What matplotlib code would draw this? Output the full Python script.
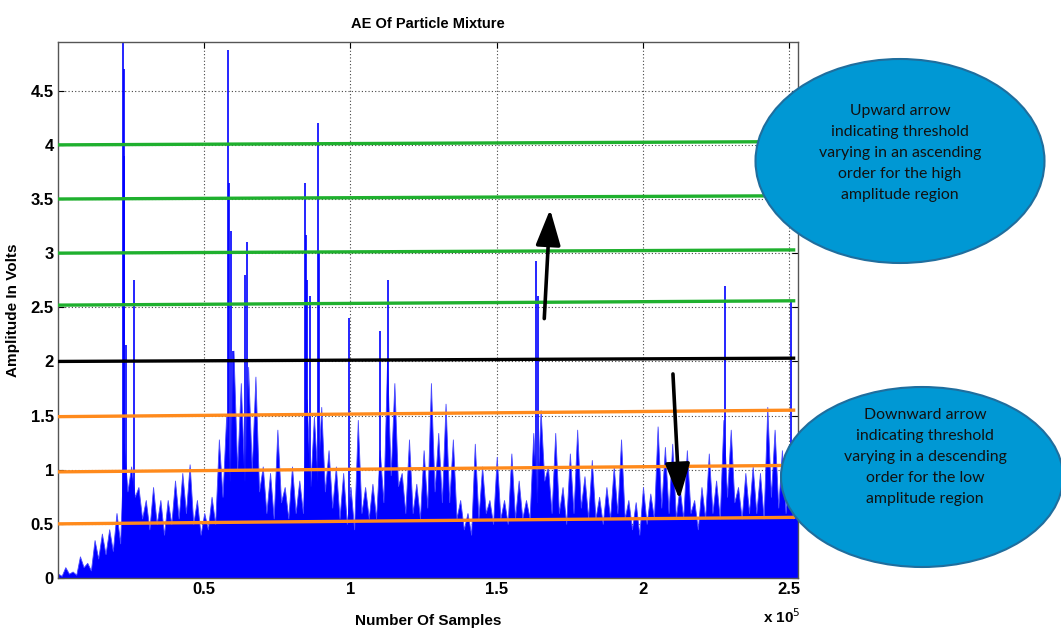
import numpy as np
import matplotlib
matplotlib.use("Agg")
import matplotlib.pyplot as plt
from matplotlib.patches import Ellipse

# AE signal envelope, read every 2500 samples (peak then trough after it)
env_step = 2500
peak_env = [0.04, 0.10, 0.06, 0.20, 0.14, 0.35, 0.41, 0.45, 0.60, 1.24,
            1.03, 0.84, 0.72, 0.84, 0.72, 0.72, 0.90, 0.97, 1.05, 0.72,
            0.60, 0.75, 1.28, 1.50, 2.10, 1.80, 1.95, 1.86, 1.03, 0.97,
            1.37, 0.84, 1.03, 0.90, 1.65, 1.49, 1.58, 1.18, 1.03, 0.97,
            0.84, 1.46, 0.84, 0.87, 1.18, 2.00, 1.80, 0.97, 1.28, 0.87,
            1.18, 1.80, 1.34, 1.61, 1.28, 0.72, 0.60, 1.24, 1.03, 0.72,
            1.12, 0.72, 1.15, 0.90, 0.72, 1.34, 1.55, 1.03, 1.34, 0.84,
            1.15, 1.37, 0.94, 1.09, 0.75, 0.84, 1.03, 1.28, 0.72, 0.70,
            0.84, 0.78, 1.40, 1.21, 1.24, 0.84, 1.18, 0.72, 0.84, 1.15,
            0.90, 1.46, 1.37, 0.84, 0.97, 1.03, 0.97, 1.58, 1.37, 1.18,
            1.03, 0.72]
trough_env = [0.02, 0.04, 0.03, 0.10, 0.07, 0.18, 0.22, 0.25, 0.32,
              0.80, 0.75, 0.55, 0.45, 0.50, 0.40, 0.50, 0.55, 0.60, 0.50, 0.40,
              0.45, 0.50, 0.75, 0.90, 1.00, 0.90, 1.00, 0.80, 0.60, 0.55,
              0.70, 0.55, 0.60, 0.60, 0.85, 0.90, 0.80, 0.65, 0.55, 0.50,
              0.45, 0.60, 0.55, 0.55, 0.70, 0.95, 0.85, 0.60, 0.60, 0.55,
              0.65, 0.80, 0.70, 0.70, 0.55, 0.45, 0.40, 0.55, 0.60, 0.50,
              0.55, 0.50, 0.55, 0.55, 0.55, 0.70, 0.90, 0.60, 0.60, 0.50,
              0.60, 0.65, 0.55, 0.55, 0.50, 0.55, 0.60, 0.55, 0.45, 0.40,
              0.50, 0.55, 0.65, 0.60, 0.55, 0.55, 0.60, 0.45, 0.55, 0.60,
              0.55, 0.75, 0.70, 0.55, 0.60, 0.60, 0.55, 0.75, 0.65, 0.60,
              0.55, 0.55]

# isolated high spikes
spike_x = [22200, 22400, 22600, 23300, 26000, 58200, 58500, 59000, 60000,
           64000, 64700, 84400, 84700, 85200, 86000, 89000, 89400, 99400,
           110000, 112800, 163500, 164000, 228000, 250600]
spike_y = [4.95, 4.70, 3.90, 2.15, 2.75, 4.88, 3.65, 3.20, 2.10,
           2.80, 3.10, 3.65, 3.17, 2.75, 2.60, 4.20, 3.00, 2.40,
           2.28, 2.75, 2.93, 2.60, 2.70, 2.55]

# threshold lines: level at start and end
thr_start = [4.00, 3.50, 3.00, 2.52, 2.00, 1.49, 0.98, 0.50]
thr_end = [4.03, 3.53, 3.03, 2.56, 2.03, 1.55, 1.04, 0.56]
thr_colors = ['#1fb02e'] * 4 + ['black'] + ['#ff8a1c'] * 3
thr_x = [0, 251500]

up_text = "Upward arrow\nindicating threshold\nvarying in an ascending\norder for the high\namplitude region"
down_text = "Downward arrow\nindicating threshold\nvarying in a descending\norder for the low\namplitude region"

plt.rcParams['font.family'] = ['Liberation Sans', 'DejaVu Sans']

fig = plt.figure(figsize=(10.61, 6.28), dpi=100)
ax = fig.add_axes([58 / 1061, 1 - 578 / 628, 740 / 1061, 536 / 628])

n = len(peak_env)
kx = np.arange(n) * env_step
xs = np.column_stack([kx, kx + env_step / 2]).ravel()
ys = np.column_stack([peak_env, trough_env]).ravel()
ax.fill_between(xs, 0, ys, color='#0000ff', lw=0.6, edgecolor='#4a4aff', zorder=2)
ax.vlines(spike_x, 0, spike_y, color='#0000ff', lw=1.2, zorder=2)

for s, e, c in zip(thr_start, thr_end, thr_colors):
    ax.plot(thr_x, [s, e], color=c, lw=2.4, zorder=3)

# arrows
ax.annotate('', xy=(168300, 3.43), xytext=(166200, 2.37),
            arrowprops=dict(arrowstyle='-|>,head_length=1.1,head_width=0.38',
                            lw=2.6, color='black', mutation_scale=20), zorder=4)
ax.annotate('', xy=(212500, 0.70), xytext=(210200, 1.91),
            arrowprops=dict(arrowstyle='-|>,head_length=1.1,head_width=0.38',
                            lw=2.6, color='black', mutation_scale=20), zorder=4)

ax.set_xlim(0, 253000)
ax.set_ylim(0, 4.95)
ax.set_xticks([50000, 100000, 150000, 200000, 250000])
ax.set_xticklabels(['0.5', '1', '1.5', '2', '2.5'])
ax.set_yticks([0, 0.5, 1, 1.5, 2, 2.5, 3, 3.5, 4, 4.5])
ax.set_yticklabels(['0', '0.5', '1', '1.5', '2', '2.5', '3', '3.5', '4', '4.5'])
ax.grid(True, linestyle=(0, (1, 2)), color='#444444', lw=0.8)
ax.set_axisbelow(True)
ax.tick_params(direction='in', top=True, right=True, length=4, width=0.8,
               labelsize=12, pad=3)
for lab in ax.get_xticklabels() + ax.get_yticklabels():
    lab.set_fontweight('bold')
for sp in ax.spines.values():
    sp.set_color('#555555')
    sp.set_linewidth(1.0)

ax.set_title('AE Of Particle Mixture', fontsize=10.5, fontweight='bold', pad=10)
ax.set_xlabel('Number Of Samples', fontsize=11, fontweight='bold', labelpad=12)
ax.set_ylabel('Amplitude In Volts', fontsize=11, fontweight='bold', labelpad=8)
fig.text(782 / 1061, 1 - 617 / 628, r'x 10$^{5}$', fontsize=11, fontweight='bold',
         ha='center', va='center')

# overlay in pixel coordinates for the callout ellipses
ov = fig.add_axes([0, 0, 1, 1])
ov.set_xlim(0, 1061)
ov.set_ylim(628, 0)
ov.axis('off')
ov.add_patch(Ellipse((900, 161), 289, 204, facecolor='#0098d4', edgecolor='#1f6e9e', lw=1.5))
ov.add_patch(Ellipse((922, 477), 282, 180, facecolor='#0098d4', edgecolor='#1f6e9e', lw=1.5))
ov.text(900, 153, up_text, ha='center', va='center', fontsize=11.4,
        family=['Lato', 'DejaVu Sans'], linespacing=1.62, color='#111111')
ov.text(925, 457, down_text, ha='center', va='center', fontsize=11.4,
        family=['Lato', 'DejaVu Sans'], linespacing=1.62, color='#111111')

fig.savefig('out.png', dpi=100)
